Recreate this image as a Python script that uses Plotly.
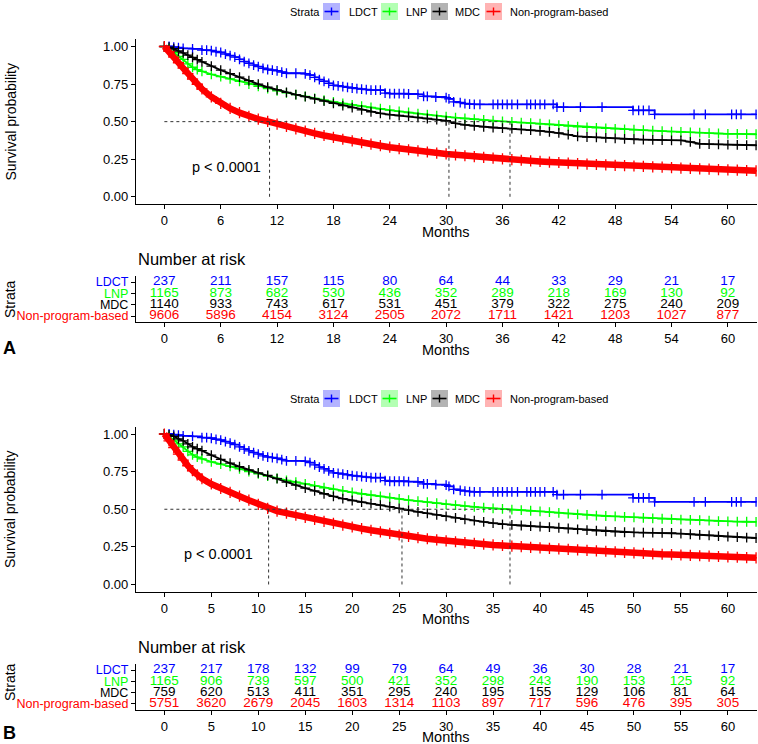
import plotly.graph_objects as go

W, H = 758, 744
FONT = "Liberation Sans, Arial, sans-serif"

# ------------------------------------------------------------------ data
strata = ["LDCT", "LNP", "MDC", "Non-program-based"]
strata_colors = ["#0000FF", "#00FF00", "#000000", "#FF0000"]
legend_fill = ["#B3B3FF", "#B3FFB3", "#B3B3B3", "#FFB3B3"]

# LDCT (same cohort in both panels) – step curve incl. censor points
ldct_t = [0, 0.5, 1, 1.5, 2, 3, 4, 4.5, 5, 5.5,
          6, 6.5, 7, 7.5, 8, 8.5, 9, 9.5, 10, 10.5,
          11, 11.5, 12, 12.5, 13, 14, 15, 15.5, 16, 16.5,
          17, 17.5, 18, 18.5, 19, 19.5, 20, 20.5, 21, 21.5,
          22, 22.5, 23, 23.5, 24, 24.5, 25, 25.5, 26, 27,
          27.6, 28, 28.9, 30, 30.3, 30.8, 31.5, 32, 32.5, 33,
          33.6, 35, 35.5, 36, 36.5, 37, 37.6, 38.6, 39, 39.5,
          40, 40.5, 41.4, 41.8, 42.5, 44.3, 46.6, 49.9, 50.5, 51,
          51.6, 52.2, 56.4, 57.6, 60.4, 60.9, 61.4, 63]
ldct_s = [1.0, 1.0, 0.996, 0.992, 0.988, 0.984, 0.976, 0.976, 0.972, 0.965,
          0.96, 0.95, 0.94, 0.93, 0.915, 0.9, 0.888, 0.876, 0.866, 0.855,
          0.847, 0.843, 0.838, 0.83, 0.822, 0.822, 0.818, 0.81, 0.795, 0.78,
          0.768, 0.755, 0.742, 0.738, 0.733, 0.728, 0.724, 0.72, 0.717, 0.713,
          0.71, 0.71, 0.71, 0.69, 0.686, 0.686, 0.686, 0.686, 0.684, 0.681,
          0.668, 0.668, 0.664, 0.66, 0.652, 0.632, 0.626, 0.62, 0.617, 0.615,
          0.615, 0.615, 0.615, 0.615, 0.615, 0.615, 0.615, 0.615, 0.615, 0.615,
          0.615, 0.615, 0.615, 0.597, 0.597, 0.597, 0.597, 0.575, 0.575, 0.575,
          0.575, 0.549, 0.549, 0.549, 0.549, 0.549, 0.549, 0.549]

months = [0, 0.5, 1, 1.5, 2, 2.5, 3, 3.5, 4,
          5, 6, 7, 8, 9, 10, 11, 12, 13, 14, 15, 16, 17, 18, 19, 20, 21, 22, 23, 24,
          25, 26, 27, 28, 29, 30, 31, 32, 33, 34, 35, 36, 37, 38, 39, 40, 41, 42, 43, 44,
          45, 46, 47, 48, 49, 50, 51, 52, 53, 54, 55, 56, 57, 58, 59, 60, 61, 62, 63]

lnp_s = [1.0, 0.985, 0.96, 0.935, 0.915, 0.885, 0.862, 0.846, 0.835,
         0.815, 0.800, 0.785, 0.768, 0.750, 0.735, 0.720, 0.705, 0.692, 0.680, 0.668,
         0.655, 0.643, 0.632, 0.622, 0.612, 0.603, 0.594, 0.586, 0.577,
         0.569, 0.561, 0.554, 0.547, 0.540, 0.533, 0.527, 0.521, 0.516, 0.511, 0.506,
         0.502, 0.498, 0.494, 0.490, 0.486, 0.481, 0.476, 0.471, 0.466,
         0.462, 0.458, 0.455, 0.452, 0.449, 0.446, 0.443, 0.440, 0.437, 0.434, 0.431,
         0.429, 0.427, 0.424, 0.421, 0.419, 0.418, 0.417, 0.416]

mdc_a_s = [1.0, 0.995, 0.985, 0.97, 0.958, 0.943, 0.928, 0.913, 0.898,
           0.87, 0.843, 0.82, 0.796, 0.773, 0.75, 0.73, 0.712, 0.695, 0.68, 0.666,
           0.652, 0.637, 0.622, 0.607, 0.593, 0.579, 0.566, 0.555, 0.547,
           0.541, 0.535, 0.528, 0.521, 0.514, 0.506, 0.489, 0.479, 0.472, 0.466, 0.461,
           0.457, 0.453, 0.448, 0.443, 0.438, 0.432, 0.425, 0.413, 0.402,
           0.398, 0.395, 0.392, 0.389, 0.386, 0.383, 0.381, 0.379, 0.377, 0.376, 0.375,
           0.365, 0.353, 0.351, 0.349, 0.347, 0.345, 0.344, 0.343]

mdc_b_s = [1.0, 0.995, 0.985, 0.968, 0.955, 0.935, 0.915, 0.902, 0.89,
           0.86, 0.832, 0.806, 0.783, 0.762, 0.742, 0.725, 0.703, 0.68, 0.66, 0.64,
           0.622, 0.603, 0.585, 0.571, 0.558, 0.547, 0.537, 0.528, 0.518,
           0.506, 0.494, 0.482, 0.472, 0.462, 0.452, 0.443, 0.433, 0.424, 0.416, 0.408,
           0.400, 0.396, 0.392, 0.388, 0.385, 0.381, 0.377, 0.372, 0.366,
           0.361, 0.357, 0.353, 0.350, 0.347, 0.346, 0.345, 0.344, 0.343, 0.342, 0.338,
           0.334, 0.330, 0.326, 0.322, 0.318, 0.315, 0.312, 0.309]

non_a_s = [1.0, 0.968, 0.930, 0.892, 0.856, 0.820, 0.783, 0.748, 0.718,
           0.665, 0.622, 0.588, 0.560, 0.536, 0.517, 0.502, 0.484, 0.468, 0.452, 0.437,
           0.422, 0.408, 0.395, 0.383, 0.372, 0.361, 0.350, 0.340, 0.330,
           0.321, 0.313, 0.305, 0.298, 0.291, 0.285, 0.279, 0.273, 0.267, 0.262, 0.257,
           0.252, 0.247, 0.243, 0.239, 0.235, 0.231, 0.228, 0.224, 0.221,
           0.218, 0.215, 0.212, 0.209, 0.207, 0.205, 0.202, 0.199, 0.197, 0.194, 0.191,
           0.189, 0.186, 0.184, 0.181, 0.179, 0.177, 0.175, 0.173]

non_b_s = [1.0, 0.955, 0.910, 0.866, 0.826, 0.789, 0.756, 0.728, 0.704,
           0.668, 0.638, 0.612, 0.587, 0.560, 0.533, 0.506, 0.488, 0.474, 0.460, 0.446,
           0.432, 0.419, 0.406, 0.394, 0.382, 0.371, 0.360, 0.349, 0.339,
           0.329, 0.320, 0.312, 0.304, 0.297, 0.290, 0.284, 0.278, 0.273, 0.268, 0.263,
           0.259, 0.255, 0.251, 0.247, 0.243, 0.240, 0.236, 0.233, 0.230,
           0.227, 0.224, 0.221, 0.217, 0.213, 0.210, 0.207, 0.204, 0.201, 0.199, 0.196,
           0.194, 0.191, 0.189, 0.186, 0.184, 0.181, 0.179, 0.177]

# medians (Non-program-based, MDC, LNP)
median_a = [11.2, 30.3, 36.8]
median_b = [11.1, 25.3, 36.8]

# numbers at risk
risk_a_times = [0, 6, 12, 18, 24, 30, 36, 42, 48, 54, 60]
risk_a_ldct = [237, 211, 157, 115, 80, 64, 44, 33, 29, 21, 17]
risk_a_lnp = [1165, 873, 682, 530, 436, 352, 289, 218, 169, 130, 92]
risk_a_mdc = [1140, 933, 743, 617, 531, 451, 379, 322, 275, 240, 209]
risk_a_non = [9606, 5896, 4154, 3124, 2505, 2072, 1711, 1421, 1203, 1027, 877]

risk_b_times = [0, 5, 10, 15, 20, 25, 30, 35, 40, 45, 50, 55, 60]
risk_b_ldct = [237, 217, 178, 132, 99, 79, 64, 49, 36, 30, 28, 21, 17]
risk_b_lnp = [1165, 906, 739, 597, 500, 421, 352, 298, 243, 190, 153, 125, 92]
risk_b_mdc = [759, 620, 513, 411, 351, 295, 240, 195, 155, 129, 106, 81, 64]
risk_b_non = [5751, 3620, 2679, 2045, 1603, 1314, 1103, 897, 717, 596, 476, 395, 305]

y_ticks = [0, 0.25, 0.5, 0.75, 1.0]
y_ticktext = ["0.00", "0.25", "0.50", "0.75", "1.00"]

# ------------------------------------------------------------------ helpers
def px_x(p):
    return p / W


def px_y(p):
    return 1 - p / H


XDOM = [px_x(136), px_x(757)]
XRANGE = [-3.02, 63.1]

fig = go.Figure()


def add_curves(xa, ya, mdc_s, non_s):
    fig.add_trace(go.Scatter(
        x=ldct_t, y=ldct_s, mode="lines+markers", line_shape="hv",
        line=dict(color=strata_colors[0], width=1.8),
        marker=dict(symbol="cross-thin", size=7, line=dict(width=1.3, color=strata_colors[0])),
        xaxis=xa, yaxis=ya, showlegend=False, name=strata[0]))
    for s, c, nm in [(lnp_s, strata_colors[1], strata[1]), (mdc_s, strata_colors[2], strata[2])]:
        fig.add_trace(go.Scatter(
            x=months, y=s, mode="lines+markers",
            line=dict(color=c, width=1.8),
            marker=dict(symbol="cross-thin", size=7, line=dict(width=1.3, color=c)),
            xaxis=xa, yaxis=ya, showlegend=False, name=nm))
    fig.add_trace(go.Scatter(
        x=months, y=non_s, mode="lines+markers",
        line=dict(color=strata_colors[3], width=6.5),
        marker=dict(symbol="cross-thin", size=8, line=dict(width=1.3, color=strata_colors[3])),
        xaxis=xa, yaxis=ya, showlegend=False, name=strata[3]))


def add_table(xa, ya, times, rows):
    for i, (vals, c) in enumerate(zip(rows, strata_colors)):
        fig.add_trace(go.Scatter(
            x=times, y=[4 - i] * len(times), mode="text",
            text=[str(v) for v in vals],
            textfont=dict(family=FONT, size=13.5, color=c),
            xaxis=xa, yaxis=ya, showlegend=False, hoverinfo="skip"))


add_curves("x", "y", mdc_a_s, non_a_s)
add_table("x2", "y2", risk_a_times, [risk_a_ldct, risk_a_lnp, risk_a_mdc, risk_a_non])
add_curves("x3", "y3", mdc_b_s, non_b_s)
add_table("x4", "y4", risk_b_times, [risk_b_ldct, risk_b_lnp, risk_b_mdc, risk_b_non])

# ------------------------------------------------------------------ axes
axis_common = dict(showline=True, linecolor="black", linewidth=1.1, ticks="outside",
                   ticklen=4, tickwidth=1, tickcolor="black", showgrid=False,
                   zeroline=False, tickfont=dict(family=FONT, size=13, color="black"))

strata_ticktext = [f'<span style="color:{c}">{n}</span>' for n, c in zip(strata, strata_colors)]

layout_axes = {}
layout_axes["xaxis"] = dict(domain=XDOM, range=XRANGE, tickvals=risk_a_times, anchor="y", **axis_common)
layout_axes["yaxis"] = dict(domain=[px_y(204.3), px_y(39)], range=[-0.05, 1.05], tickvals=y_ticks,
                            ticktext=y_ticktext, anchor="x", **axis_common)
layout_axes["xaxis2"] = dict(domain=XDOM, range=XRANGE, tickvals=risk_a_times, anchor="y2", **axis_common)
layout_axes["yaxis2"] = dict(domain=[px_y(322.3), px_y(275.8)], range=[0.45, 4.55], tickvals=[4, 3, 2, 1],
                             ticktext=strata_ticktext, anchor="x2",
                             **{**axis_common, "tickfont": dict(family=FONT, size=12.5)})
layout_axes["xaxis3"] = dict(domain=XDOM, range=XRANGE, tickvals=risk_b_times, anchor="y3", **axis_common)
layout_axes["yaxis3"] = dict(domain=[px_y(592), px_y(426.5)], range=[-0.05, 1.05], tickvals=y_ticks,
                             ticktext=y_ticktext, anchor="x3", **axis_common)
layout_axes["xaxis4"] = dict(domain=XDOM, range=XRANGE, tickvals=risk_b_times, anchor="y4", **axis_common)
layout_axes["yaxis4"] = dict(domain=[px_y(710), px_y(663.8)], range=[0.45, 4.55], tickvals=[4, 3, 2, 1],
                             ticktext=strata_ticktext, anchor="x4",
                             **{**axis_common, "tickfont": dict(family=FONT, size=12.5)})

# ------------------------------------------------------------------ shapes (median lines, legends)
shapes = []
DASH = dict(color="#333333", width=1, dash="3px,3px")
for xr, yr, meds in [("x", "y", median_a), ("x3", "y3", median_b)]:
    shapes.append(dict(type="line", xref=xr, yref=yr, x0=0, x1=max(meds), y0=0.5, y1=0.5, line=DASH))
    for m in meds:
        shapes.append(dict(type="line", xref=xr, yref=yr, x0=m, x1=m, y0=0, y1=0.5, line=DASH))

annotations = []
box_x = [323, 381, 431, 485]
text_x = [347, 404, 453, 508]
for cy in [11.5, 398.5]:
    annotations.append(dict(text="Strata", x=px_x(288), y=px_y(cy), xref="paper", yref="paper",
                            xanchor="left", yanchor="middle", showarrow=False,
                            font=dict(family=FONT, size=11, color="black")))
    for i in range(4):
        bx = box_x[i]
        shapes.append(dict(type="rect", xref="paper", yref="paper", x0=px_x(bx), x1=px_x(bx + 17),
                           y0=px_y(cy + 8.5), y1=px_y(cy - 8.5), fillcolor=legend_fill[i], line=dict(width=0)))
        shapes.append(dict(type="line", xref="paper", yref="paper", x0=px_x(bx + 1.5), x1=px_x(bx + 15.5),
                           y0=px_y(cy), y1=px_y(cy), line=dict(color=strata_colors[i], width=1.6)))
        shapes.append(dict(type="line", xref="paper", yref="paper", x0=px_x(bx + 8.5), x1=px_x(bx + 8.5),
                           y0=px_y(cy - 4), y1=px_y(cy + 4), line=dict(color=strata_colors[i], width=1.4)))
        annotations.append(dict(text=strata[i], x=px_x(text_x[i]), y=px_y(cy), xref="paper", yref="paper",
                                xanchor="left", yanchor="middle", showarrow=False,
                                font=dict(family=FONT, size=11, color="black")))


def ann(text, x, y, size, xanchor="center", angle=0, bold=False):
    annotations.append(dict(text=f"<b>{text}</b>" if bold else text, x=px_x(x), y=px_y(y), xref="paper",
                            yref="paper", xanchor=xanchor, yanchor="middle", showarrow=False,
                            textangle=angle, font=dict(family=FONT, size=size, color="black")))


ann("Survival probability", 10, 121.5, 14, angle=-90)
ann("Survival probability", 10, 509, 14, angle=-90)
ann("Strata", 10, 299, 14, angle=-90)
ann("Strata", 10, 682, 14, angle=-90)
for y in [232, 350, 619, 736.5]:
    ann("Months", 446.5, y, 14.5)
ann("Number at risk", 136, 259, 16.5, xanchor="left")
ann("Number at risk", 136, 646.5, 16.5, xanchor="left")
ann("A", 9, 348, 18, bold=True)
ann("B", 9, 733, 18, bold=True)

annotations.append(dict(text="p < 0.0001", x=2.73, y=0.2, xref="x", yref="y", xanchor="left",
                        yanchor="middle", showarrow=False, font=dict(family=FONT, size=14.5, color="black")))
annotations.append(dict(text="p < 0.0001", x=1.84, y=0.2, xref="x3", yref="y3", xanchor="left",
                        yanchor="middle", showarrow=False, font=dict(family=FONT, size=14.5, color="black")))

fig.update_layout(
    width=W, height=H, margin=dict(l=0, r=0, t=0, b=0),
    paper_bgcolor="white", plot_bgcolor="white",
    font=dict(family=FONT, color="black"),
    shapes=shapes, annotations=annotations, showlegend=False,
    hovermode=False,
    **layout_axes,
)

fig.write_html("out.html", config={"displayModeBar": False, "staticPlot": True},
               post_script="document.body.style.margin='0px';document.body.style.overflow='hidden';")
